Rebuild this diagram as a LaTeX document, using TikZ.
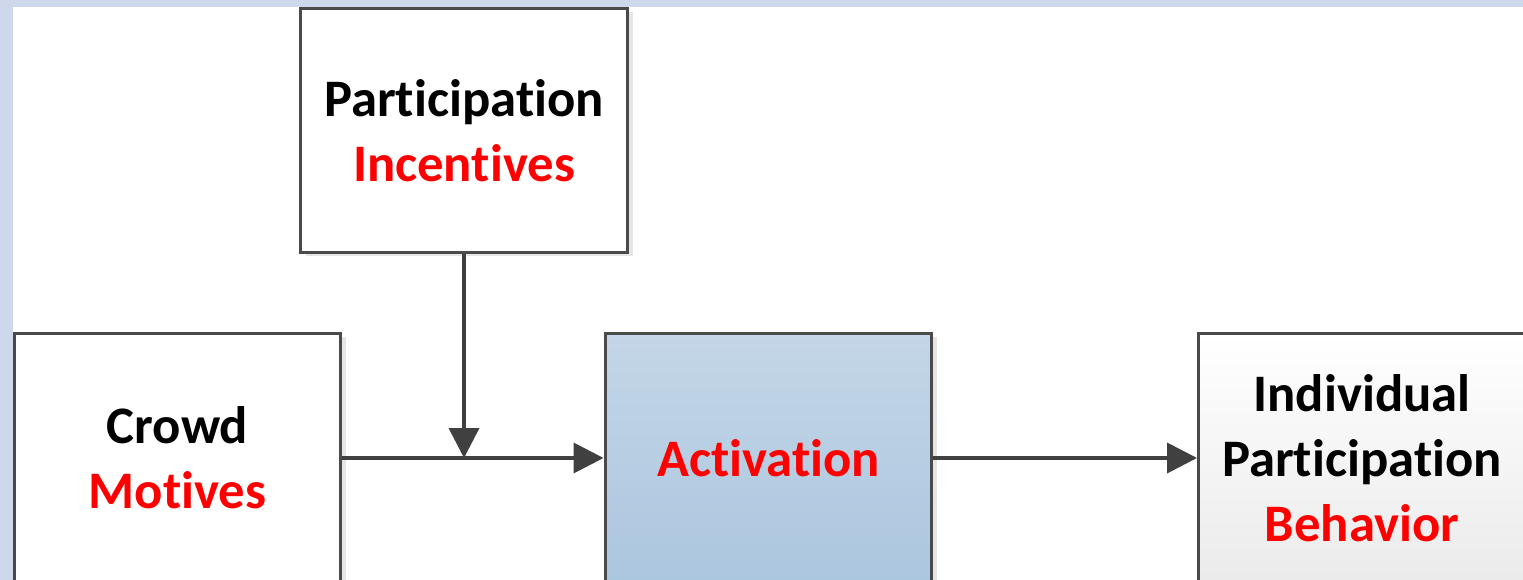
\documentclass[tikz,border=0pt]{standalone}
\usepackage{fontspec}
\setmainfont[Ligatures=NoCommon]{Carlito}
\usetikzlibrary{arrows.meta,shadows}

\definecolor{frame}{HTML}{4A4A4A}
\definecolor{arrowgray}{HTML}{404040}
\definecolor{slideblue}{HTML}{CFD8EB}
\definecolor{actitop}{HTML}{C4D6E7}
\definecolor{actibot}{HTML}{ABC6DF}

\tikzset{
  block/.style={draw=frame,line width=1.7pt,fill=white,minimum width=6.54cm,
    minimum height=4.88cm,align=center,font=\bfseries\fontsize{30}{37}\selectfont,
    drop shadow={shadow xshift=0.11cm,shadow yshift=-0.07cm,fill=black!14,opacity=.7}},
  lowblock/.style={block,minimum height=4.98cm},
  flow/.style={draw=arrowgray,line width=2.1pt,-{Triangle[length=0.6cm,width=0.6cm]}}
}

\begin{document}
\begin{tikzpicture}[x=0.02cm,y=-0.02cm]
  \useasboundingbox (0,0) rectangle (1523,580);
  \clip (0,0) rectangle (1523,580);
  % slide background
  \fill[slideblue] (0,0) rectangle (1523,580);
  \fill[white] (13,7) rectangle (1523,580);
  % boxes
  \node[block]    (PI)  at (464,130.5)  {Participation\\\textcolor{red}{Incentives}};
  \node[lowblock] (CM)  at (177.5,458)  {Crowd\\\textcolor{red}{Motives}};
  \node[lowblock,top color=actitop,bottom color=actibot]%
                  (ACT) at (768.5,458)  {\textcolor{red}{Activation}};
  \node[lowblock,top color=white,bottom color=black!8]%
                  (IPB) at (1362,458)   {Individual\\Participation\\\textcolor{red}{Behavior}};
  \coordinate (join) at (PI.south |- CM.east);
  % connectors
  \draw[flow] (CM.east) -- (ACT.west);
  \draw[flow] (PI.south) -- (join);
  \draw[flow] (ACT.east) -- (IPB.west);
\end{tikzpicture}
\end{document}
